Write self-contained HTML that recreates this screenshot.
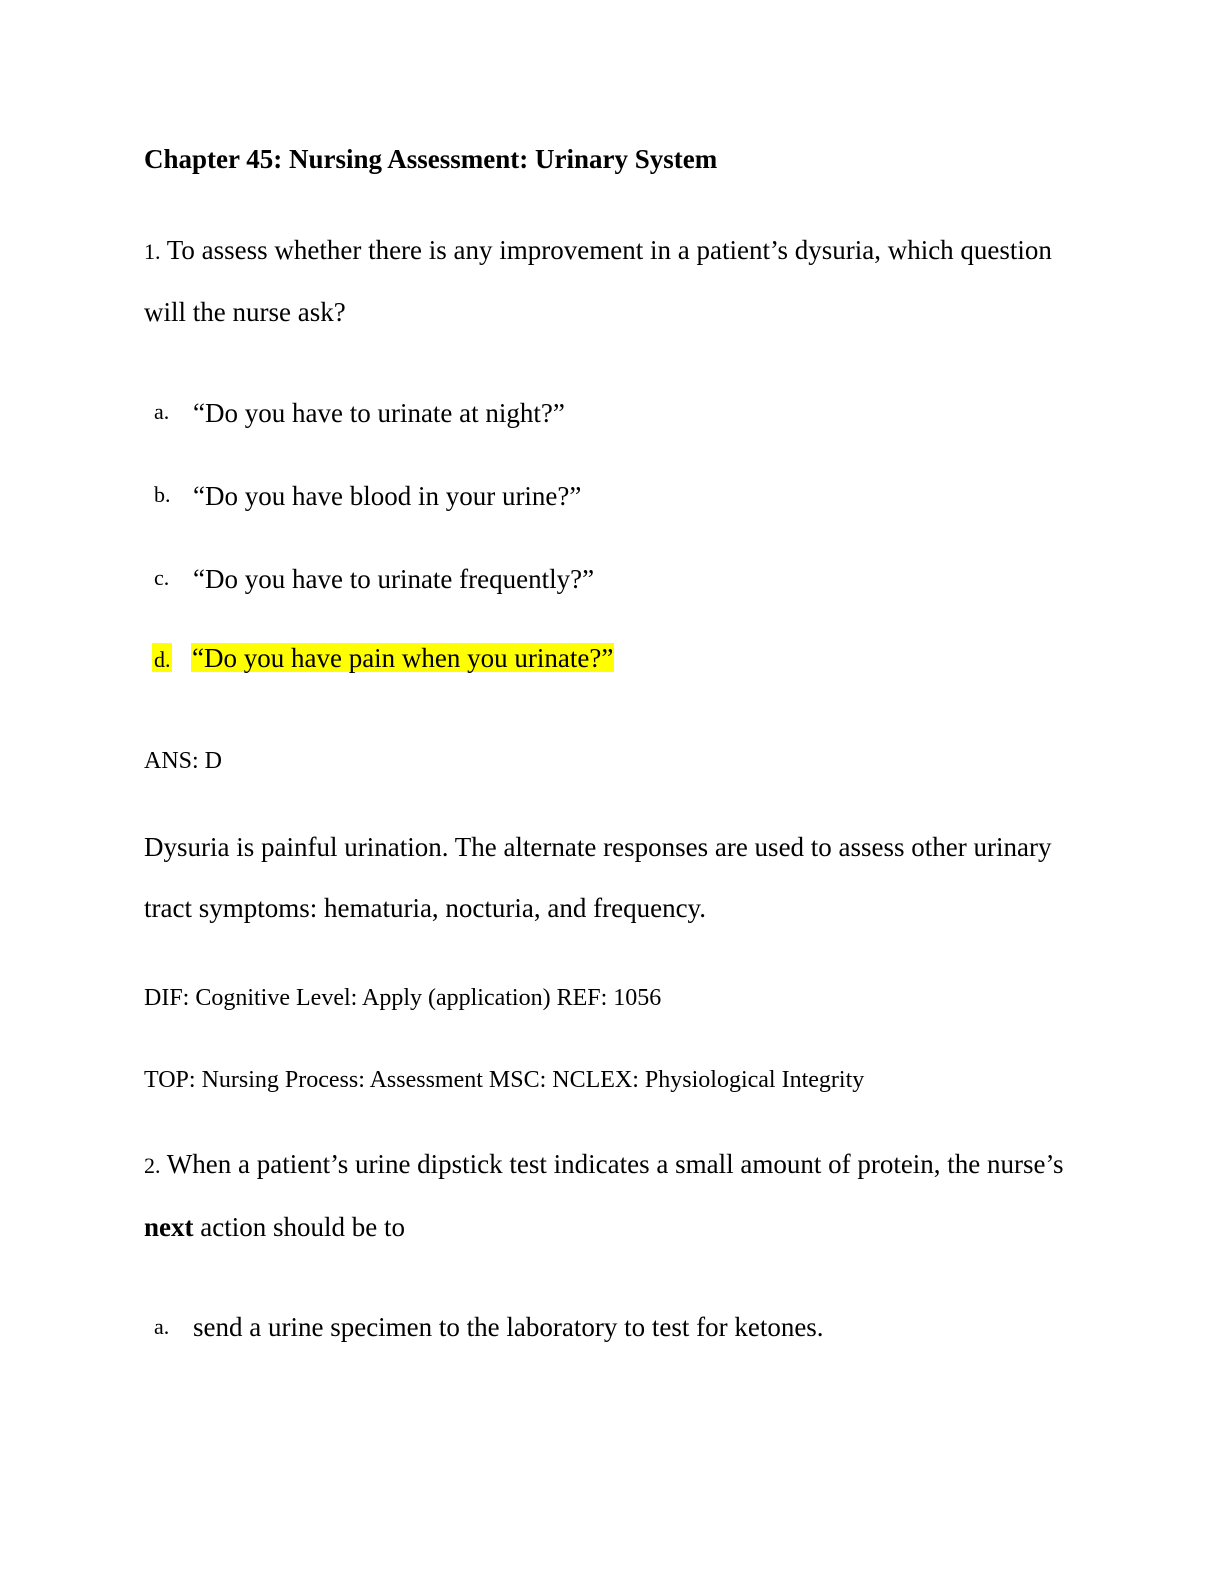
<!DOCTYPE html>
<html><head><meta charset="utf-8"><style>
html,body{margin:0;padding:0;background:#fff;}
body{width:1224px;height:1584px;position:relative;overflow:hidden;font-family:"Liberation Serif",serif;color:#000;}
.l{position:absolute;white-space:nowrap;line-height:1;}
.b{font-size:27px;}
.s{font-size:24px;}
.n{font-size:22px;}
.hl{background:#ffff00;}
</style></head><body>
<div class="l" style="left:144px;top:146px;font-size:27px;font-weight:bold;">Chapter 45: Nursing Assessment: Urinary System</div>
<div class="l b" style="left:144px;top:237px;"><span class="n">1.</span> To assess whether there is any improvement in a patient’s dysuria, which question</div>
<div class="l b" style="left:144px;top:299px;">will the nurse ask?</div>
<div class="l n" style="left:154px;top:401px;">a.</div>
<div class="l b" style="left:193px;top:400px;">“Do you have to urinate at night?”</div>
<div class="l n" style="left:154px;top:484px;">b.</div>
<div class="l b" style="left:193px;top:483px;">“Do you have blood in your urine?”</div>
<div class="l n" style="left:154px;top:567px;">c.</div>
<div class="l b" style="left:193px;top:566px;">“Do you have to urinate frequently?”</div>
<div class="l hl" style="left:152px;top:643px;width:20px;height:29px;"></div>
<div class="l n" style="left:154px;top:649px;">d.</div>
<div class="l hl b" style="left:191px;top:643px;height:29px;padding:0 1px;line-height:31px;">“Do you have pain when you urinate?”</div>
<div class="l s" style="left:144px;top:749px;">ANS: D</div>
<div class="l b" style="left:144px;top:834px;">Dysuria is painful urination. The alternate responses are used to assess other urinary</div>
<div class="l b" style="left:144px;top:895px;">tract symptoms: hematuria, nocturia, and frequency.</div>
<div class="l s" style="left:144px;top:986px;">DIF: Cognitive Level: Apply (application) REF: 1056</div>
<div class="l s" style="left:144px;top:1068px;">TOP: Nursing Process: Assessment MSC: NCLEX: Physiological Integrity</div>
<div class="l b" style="left:144px;top:1151px;"><span class="n">2.</span> When a patient’s urine dipstick test indicates a small amount of protein, the nurse’s</div>
<div class="l b" style="left:144px;top:1214px;"><b>next</b> action should be to</div>
<div class="l n" style="left:154px;top:1316px;">a.</div>
<div class="l b" style="left:193px;top:1314px;">send a urine specimen to the laboratory to test for ketones.</div>
</body></html>
